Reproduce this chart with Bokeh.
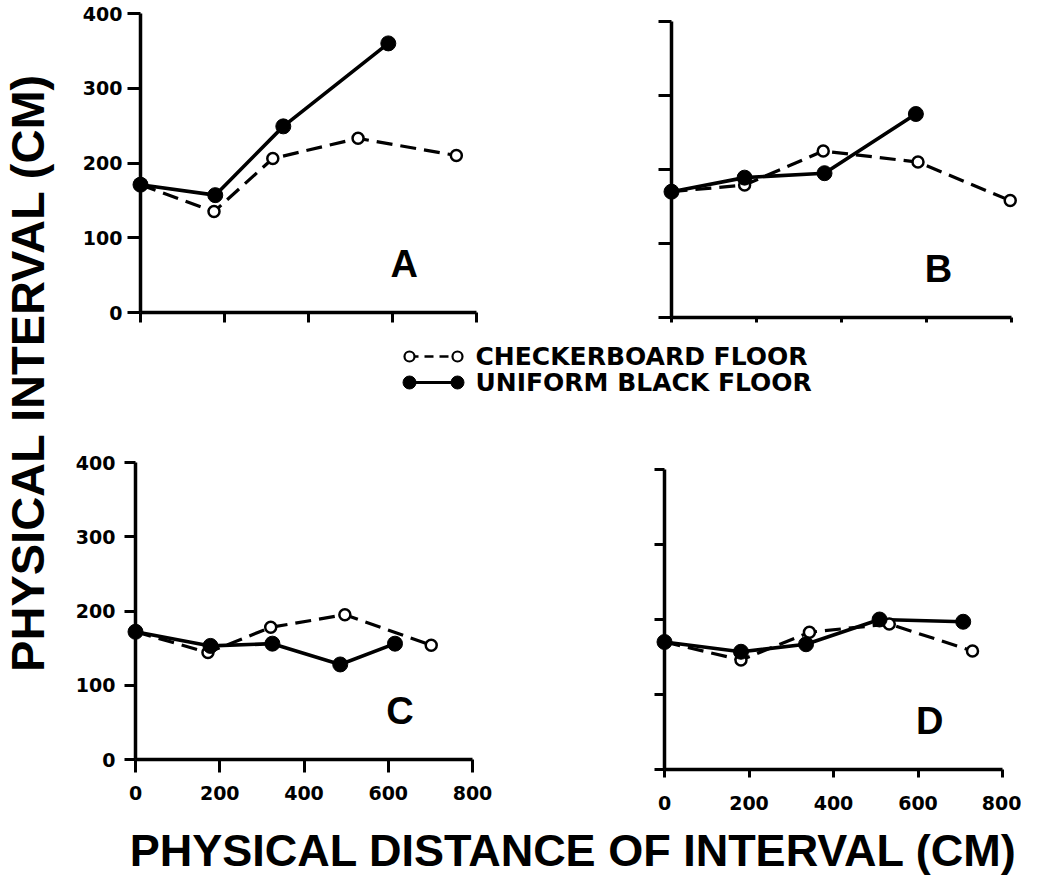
import math
from bokeh.plotting import figure
from bokeh.models import Range1d, LinearAxis, FixedTicker
from bokeh.layouts import row, column
from bokeh.core.properties import value
from bokeh.embed import file_html
from bokeh.resources import INLINE

# ---------------- data ----------------
X_TICKS = [0, 200, 400, 600, 800]
Y_TICKS = [0, 100, 200, 300, 400]
PANEL_LETTERS = ["A", "B", "C", "D"]
SERIES_NAMES = ["CHECKERBOARD FLOOR", "UNIFORM BLACK FLOOR"]
Y_TITLE = "PHYSICAL INTERVAL (CM)"
X_TITLE = "PHYSICAL DISTANCE OF INTERVAL (CM)"

A_CHECK_X = [0, 175, 315, 518, 752]
A_CHECK_Y = [171, 135, 206, 233, 210]
A_BLACK_X = [0, 178, 340, 590]
A_BLACK_Y = [171, 157, 249, 360]

B_CHECK_X = [0, 172, 357, 580, 797]
B_CHECK_Y = [170, 179, 225, 210, 158]
B_BLACK_X = [0, 172, 360, 575]
B_BLACK_Y = [170, 189, 195, 275]

C_CHECK_X = [0, 172, 321, 497, 702]
C_CHECK_Y = [172, 144, 178, 195, 154]
C_BLACK_X = [0, 178, 325, 486, 616]
C_BLACK_Y = [172, 153, 156, 128, 156]

D_CHECK_X = [0, 181, 343, 532, 729]
D_CHECK_Y = [170, 146, 183, 194, 158]
D_BLACK_X = [0, 181, 335, 509, 707]
D_BLACK_Y = [170, 157, 167, 200, 197]

# ---------------- layout / style (window pixel positions) ----------------
TICK_FONT = "DejaVu Sans"
TITLE_FONT = "Liberation Sans"
DASH = "16 8"
LABEL_HALF = 7.5
YT_W = 62                     # width of the y-title strip
COL0 = 8 + YT_W               # left of the panel column
SPLIT = 560                   # boundary between left and right panels
RIGHT = 1029
TOP_ROW = (8, 345)
LEG_H = 100
BOT_ROW = (445, 830)
# common frames (so that rows/columns align identically)
FRAME_X = {"L": (132, 500), "R": (662, 1028)}
FRAME_Y = {"T": (14, 330), "B": (455, 785)}


def base_fig(w, h, xr, yr, **kw):
    p = figure(width=w, height=h, x_range=xr, y_range=yr,
               x_axis_type=None, y_axis_type=None,
               toolbar_location=None, output_backend="svg",
               title_location=None, **kw)
    p.outline_line_color = None
    p.background_fill_color = "white"
    p.border_fill_color = "white"
    return p


def rule_axis(ax, ticks):
    ax.axis_line_width = 3.5
    ax.axis_line_color = "black"
    ax.major_tick_line_width = 3
    ax.major_tick_out = 0
    ax.major_tick_in = 13
    ax.minor_tick_line_color = None
    ax.major_label_standoff = 0
    ax.major_label_overrides = {t: "" for t in ticks}


def label_axis(ax, standoff):
    ax.axis_line_color = None
    ax.major_tick_line_color = None
    ax.minor_tick_line_color = None
    ax.major_tick_out = 0
    ax.major_tick_in = 0
    ax.major_label_text_font = TICK_FONT
    ax.major_label_text_font_style = "bold"
    ax.major_label_text_font_size = "19px"
    ax.major_label_text_color = "black"
    ax.major_label_standoff = standoff


def make_panel(col, rw, anchor, ylab_right, xlab_center, cx, cy, bx, by, letter):
    fl, fr_edge = (COL0, SPLIT) if col == "L" else (SPLIT, RIGHT)
    ft, fb_edge = TOP_ROW if rw == "T" else BOT_ROW
    frame_l, frame_r = FRAME_X[col]
    frame_t, frame_b = FRAME_Y[rw]
    x0, x8, y0, y4 = anchor
    sx = (x8 - x0) / 800.0
    sy = (y0 - y4) / 400.0
    xr = Range1d(-(x0 - frame_l) / sx, 800 + (frame_r - x8) / sx)
    yr = Range1d(-(frame_b - y0) / sy, 400 + (y4 - frame_t) / sy)
    p = base_fig(fr_edge - fl, fb_edge - ft, xr, yr,
                 min_border_left=frame_l - fl, min_border_right=fr_edge - frame_r,
                 min_border_top=frame_t - ft, min_border_bottom=fb_edge - frame_b)
    xa = LinearAxis(fixed_location=0, bounds=(0, 800), ticker=FixedTicker(ticks=X_TICKS))
    rule_axis(xa, X_TICKS)
    p.add_layout(xa, "above")
    ya = LinearAxis(fixed_location=0, bounds=(0, 400), ticker=FixedTicker(ticks=Y_TICKS))
    rule_axis(ya, Y_TICKS)
    p.add_layout(ya, "right")
    if ylab_right is not None:
        ly = LinearAxis(ticker=FixedTicker(ticks=Y_TICKS))
        label_axis(ly, max(0, round(frame_l - ylab_right)))
        p.add_layout(ly, "left")
    if xlab_center is not None:
        lx = LinearAxis(ticker=FixedTicker(ticks=X_TICKS))
        label_axis(lx, max(0, round(xlab_center - LABEL_HALF - frame_b)))
        p.add_layout(lx, "below")

    p.line(cx, cy, line_color="black", line_width=3.2, line_dash=DASH)
    p.line(bx, by, line_color="black", line_width=3.6)
    p.scatter(cx, cy, marker="circle", size=11, fill_color="white",
              line_color="black", line_width=2.5, level="overlay")
    p.scatter(bx, by, marker="circle", size=15, fill_color="black",
              line_color="black", level="overlay")
    p.text(x=[628], y=[65], text=[letter], text_font=value(TITLE_FONT),
           text_font_style="bold", text_font_size="38px",
           text_align="center", text_baseline="middle", text_color="black")
    return p


pA = make_panel("L", "T", (148, 484, 320, 21), 130, None,
                A_CHECK_X, A_CHECK_Y, A_BLACK_X, A_BLACK_Y, PANEL_LETTERS[0])
pB = make_panel("R", "T", (679, 1019, 325, 29), None, None,
                B_CHECK_X, B_CHECK_Y, B_BLACK_X, B_BLACK_Y, PANEL_LETTERS[1])
pC = make_panel("L", "B", (143, 480, 767, 470), 123, 800,
                C_CHECK_X, C_CHECK_Y, C_BLACK_X, C_BLACK_Y, PANEL_LETTERS[2])
pD = make_panel("R", "B", (672, 1010, 777, 477), None, 810,
                D_CHECK_X, D_CHECK_Y, D_BLACK_X, D_BLACK_Y, PANEL_LETTERS[3])

# legend strip (window x COL0..RIGHT, y 345..445)
LW = RIGHT - COL0
lg = base_fig(LW, LEG_H, Range1d(0, LW), Range1d(0, LEG_H), min_border=0)
row_y = [LEG_H - (364 - TOP_ROW[1]), LEG_H - (390 - TOP_ROW[1])]
mk_x = [417 - COL0, 465 - COL0]
lg.line(mk_x, [row_y[0]] * 2, line_color="black", line_width=2.5, line_dash="9 6")
lg.line(mk_x, [row_y[1]] * 2, line_color="black", line_width=3)
lg.scatter(mk_x, [row_y[0]] * 2, marker="circle", size=10, fill_color="white",
           line_color="black", line_width=2.2, level="overlay")
lg.scatter(mk_x, [row_y[1]] * 2, marker="circle", size=13, fill_color="black",
           line_color="black", level="overlay")
lg.text(x=[483 - COL0] * 2, y=row_y, text=SERIES_NAMES, text_font=value(TICK_FONT),
        text_font_style="bold", text_font_size="25px", text_align="left",
        text_baseline="middle", text_color="black")

# y title strip
YT_H = 879
yt = base_fig(YT_W, YT_H, Range1d(0, YT_W), Range1d(0, YT_H), min_border=0)
yt.text(x=[34.5 - 8], y=[YT_H - (380 - 8)], text=[Y_TITLE], angle=math.pi / 2,
        text_font=value(TITLE_FONT), text_font_style="bold", text_font_size="47px",
        text_align="center", text_baseline="middle", text_color="black")

# x title strip (window y 830..887)
XT_H = 887 - BOT_ROW[1]
xt = base_fig(LW, XT_H, Range1d(0, LW), Range1d(0, XT_H), min_border=0)
xt.text(x=[581 - COL0], y=[887 - 858], text=[X_TITLE], text_font=value(TITLE_FONT),
        text_font_style="bold", text_font_size="45px", text_align="center",
        text_baseline="middle", text_color="black")

layout = row(yt, column(row(pA, pB), lg, row(pC, pD), xt))

open("out.html", "w").write(file_html(layout, INLINE))
